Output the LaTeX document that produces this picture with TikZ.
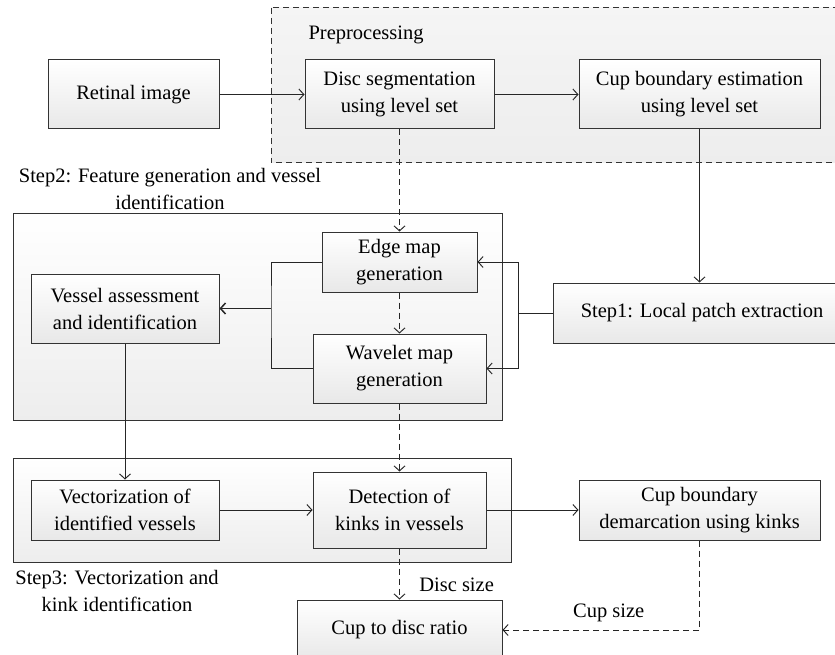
\documentclass[tikz,border=0pt]{standalone}
\usepackage{fontspec}
\setmainfont{Liberation Serif}
\usetikzlibrary{arrows.meta,positioning}

\begin{document}
\begin{tikzpicture}[x=1pt,y=-1pt,>={Straight Barb[length=5pt,width=11pt]},font=\fontsize{20.5}{27}\selectfont]
        \tikzstyle{stage}=[rectangle,draw=black!80,line width=1pt,top color=white,bottom color=black!9,align=center,inner sep=0pt]
        \tikzstyle{group}=[draw=black!80,line width=1pt,top color=white,bottom color=black!7]
        \tikzstyle{flow}=[->,draw=black!85,line width=0.95pt]
        \tikzstyle{dflow}=[flow,dash pattern=on 6pt off 4pt]
        \path[use as bounding box,clip] (0,0) rectangle (835,655);

        % groups in the back
        \draw [group,dash pattern=on 6pt off 4pt,top color=black!4,bottom color=black!7] (271,8) rectangle (850,163);
        \draw [group] (13,214) rectangle (502,420);
        \draw [group] (13,458) rectangle (511,562);
        \node [anchor=west] (prep) at (305,35) {Preprocessing};
        \node [align=center] (lbl2) at (170,189) {Step2: Feature generation and vessel\\identification};
        \node [align=center] (lbl3) at (117,591) {Step3: Vectorization and\\kink identification};

        \node [stage,minimum width=171,minimum height=69] (retinal) at (133.5,94.5) {Retinal image};
        \node [stage,minimum width=189,minimum height=69] (disc) at (399.5,94.5) {Disc segmentation\\using level set};
        \node [stage,minimum width=241,minimum height=69] (cupest) at (699.5,94.5) {Cup boundary estimation\\using level set};
        \node [stage,minimum width=155,minimum height=60] (edge) at (399.5,262) {Edge map\\generation};
        \node [stage,minimum width=173,minimum height=69] (wavelet) at (399.5,368.5) {Wavelet map\\generation};
        \node [stage,minimum width=188,minimum height=69] (vessel) at (125,308.5) {Vessel assessment\\and identification};
        \node [stage,minimum width=298,minimum height=60] (step1) at (702,313) {Step1: Local patch extraction};
        \node [stage,minimum width=188,minimum height=60] (vector) at (125,510) {Vectorization of\\identified vessels};
        \node [stage,minimum width=173,minimum height=76] (detect) at (399.5,510) {Detection of\\kinks in vessels};
        \node [stage,minimum width=241,minimum height=60] (demarc) at (699.5,510) {Cup boundary\\demarcation using kinks};
        \node [stage,minimum width=205,minimum height=60] (ratio) at (399.5,630) {Cup to disc ratio};

        \draw [flow] (retinal) -- (disc);
        \draw [flow] (disc) -- (cupest);
        \draw [dflow] (disc) -- (edge);
        \draw [dflow] (edge) -- (wavelet);
        \draw [dflow] (wavelet) -- (detect);
        \draw [flow] (cupest.south) -- (cupest.south |- step1.north);

        % patches go to both maps
        \draw [flow,-] (step1.west) -- ++(-34,0) coordinate (split);
        \draw [flow] (split) |- (edge.east);
        \draw [flow] (split) |- (wavelet.east);

        % both maps join
        \coordinate (join) at (271,308.5);
        \draw [flow,-] (edge.west) -| (join) |- (wavelet.west);
        \draw [flow,line width=1.5pt] (join) -- (vessel.east);

        \draw [flow] (vessel) -- (vector);
        \draw [flow] (vector) -- (detect);
        \draw [flow] (detect) -- (demarc);
        \draw [dflow] (detect) -- node [right=16pt,pos=0.72] {Disc size} (ratio);
        \draw [dflow] (demarc.south) |- node [above left=4pt and 12pt,pos=0.6] {Cup size} (ratio.east);
    \end{tikzpicture}
\end{document}
